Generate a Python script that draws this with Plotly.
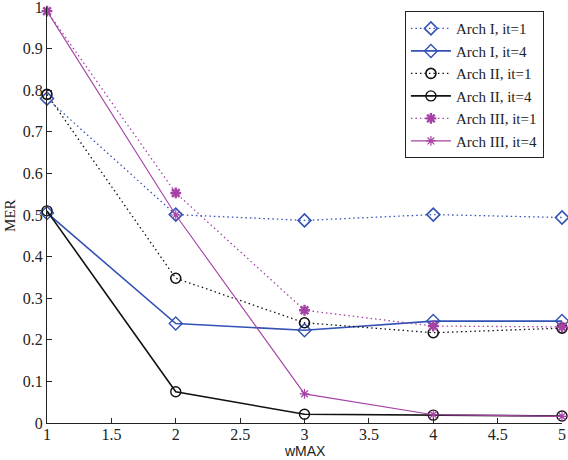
import plotly.graph_objects as go

wmax = [1, 2, 3, 4, 5]

arch1_it1 = [0.78, 0.501, 0.487, 0.501, 0.494]
arch1_it4 = [0.505, 0.239, 0.223, 0.245, 0.245]
arch2_it1 = [0.79, 0.348, 0.241, 0.217, 0.228]
arch2_it4 = [0.51, 0.075, 0.021, 0.019, 0.017]
arch3_it1 = [0.99, 0.553, 0.271, 0.233, 0.231]
arch3_it4 = [0.99, 0.50, 0.070, 0.020, 0.016]

x_ticks = [1, 1.5, 2, 2.5, 3, 3.5, 4, 4.5, 5]
x_labels = ['1', '1.5', '2', '2.5', '3', '3.5', '4', '4.5', '5']
y_ticks = [0, 0.1, 0.2, 0.3, 0.4, 0.5, 0.6, 0.7, 0.8, 0.9, 1]
y_labels = ['0', '0.1', '0.2', '0.3', '0.4', '0.5', '0.6', '0.7', '0.8', '0.9', '1']

blue = '#3352b5'
black = '#111111'
purple = '#a543a5'
dotted = '1.5px,3px'

series = [
    ('Arch I, it=1', arch1_it1, blue, dotted, 1.3, 'diamond-open', 10, 1.6),
    ('Arch I, it=4', arch1_it4, blue, 'solid', 1.6, 'diamond-open', 10, 1.4),
    ('Arch II, it=1', arch2_it1, black, dotted, 1.3, 'circle-open', 10, 1.6),
    ('Arch II, it=4', arch2_it4, black, 'solid', 1.6, 'circle-open', 10, 1.4),
    ('Arch III, it=1', arch3_it1, purple, dotted, 1.3, 'asterisk-open', 9, 2.4),
    ('Arch III, it=4', arch3_it4, purple, 'solid', 1.1, 'asterisk-open', 8, 1.2),
]

fig = go.Figure()
for name, vals, col, dash, lw, sym, ms, mlw in series:
    fig.add_trace(go.Scatter(
        x=wmax, y=vals, name=name, mode='lines+markers',
        line=dict(color=col, dash=dash, width=lw),
        marker=dict(symbol=sym, size=ms, color=col, line=dict(color=col, width=mlw)),
        cliponaxis=False,
    ))

serif = "'Liberation Serif', serif"
sans = "'Liberation Sans', sans-serif"

fig.update_layout(
    width=568, height=460,
    margin=dict(l=47, r=6, t=7, b=37, autoexpand=False),
    plot_bgcolor='white', paper_bgcolor='white',
    font=dict(family=serif, size=16, color='#222222'),
    showlegend=True,
    legend=dict(
        x=0.695, y=0.99, xanchor='left', yanchor='top',
        bgcolor='white', bordercolor='#222222', borderwidth=1,
        font=dict(family=serif, size=15, color='#222222'),
        itemwidth=40, tracegroupgap=0,
    ),
    annotations=[
        dict(text='wMAX', x=0.5, y=-0.068, xref='paper', yref='paper',
             xanchor='center', yanchor='middle', showarrow=False,
             font=dict(family=sans, size=14, color='#222222')),
        dict(text='MER', x=-0.072, y=0.5, xref='paper', yref='paper',
             xanchor='center', yanchor='middle', showarrow=False, textangle=-90,
             font=dict(family=serif, size=15, color='#222222')),
    ],
)
fig.update_xaxes(
    range=[1, 5], tickvals=x_ticks, ticktext=x_labels,
    showgrid=False, zeroline=False, automargin=False,
    showline=True, linecolor='#222222', linewidth=1,
    ticks='inside', ticklen=5, tickcolor='#222222',
    ticklabeloverflow='allow', ticklabelstandoff=-3,
    tickfont=dict(family=serif, size=16),
)
fig.update_yaxes(
    range=[0, 1], tickvals=y_ticks, ticktext=y_labels,
    showgrid=False, zeroline=False, automargin=False,
    showline=True, linecolor='#222222', linewidth=1,
    ticks='inside', ticklen=5, tickcolor='#222222',
    ticklabeloverflow='allow',
    tickfont=dict(family=serif, size=16),
)

# the page body has a default 8px margin; drop it so the figure fills the window
fig.write_html("out.html", config={'displayModeBar': False},
               post_script="document.body.style.margin='0';document.body.style.overflow='hidden';")
